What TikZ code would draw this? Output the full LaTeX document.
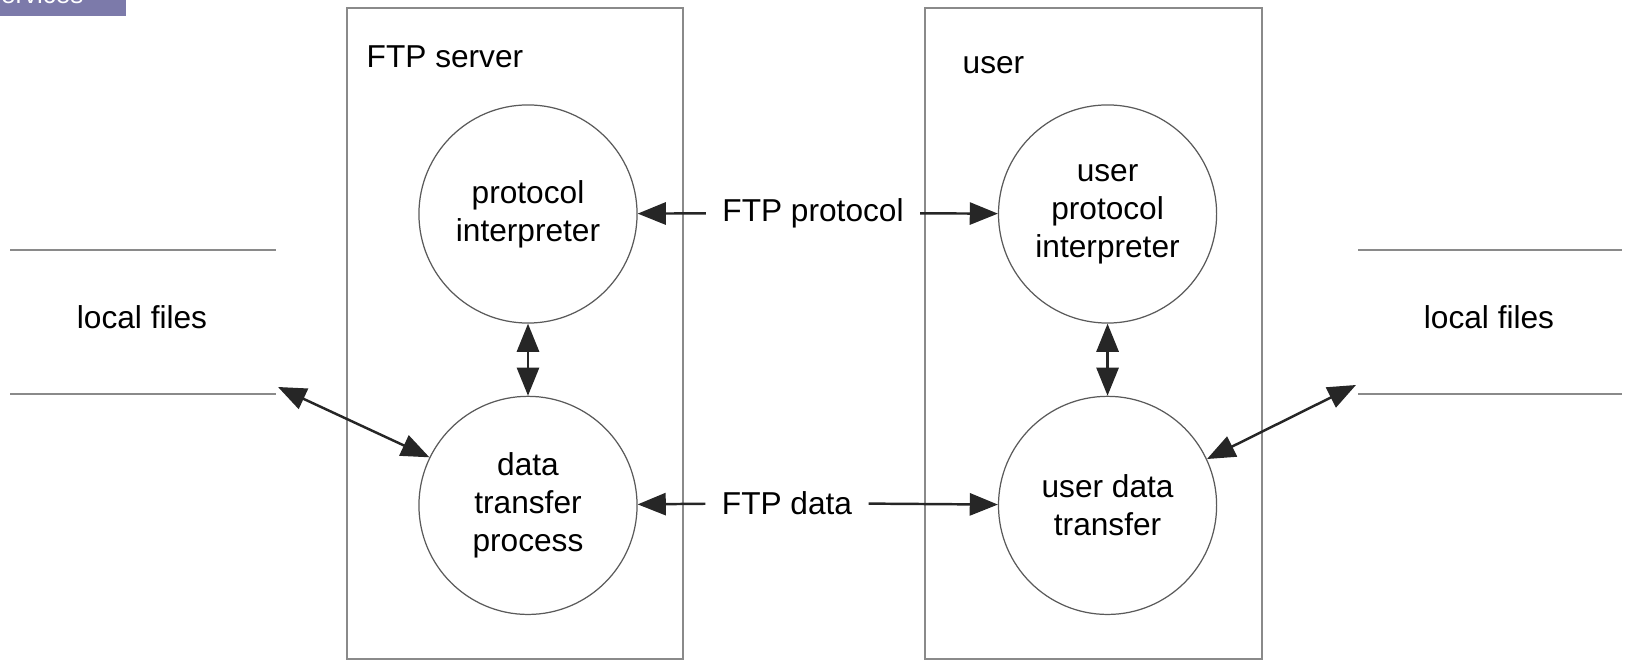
\documentclass[tikz,border=0pt]{standalone}
\usepackage{fontspec}
\setmainfont{Liberation Sans}
\usetikzlibrary{positioning, arrows.meta}

\definecolor{headerblue}{HTML}{7C7AAA}
\definecolor{boxgray}{HTML}{8A8A8A}
\definecolor{ringgray}{HTML}{5A5A5A}

\begin{document}
\begin{tikzpicture}[x=0.01cm, y=-0.01cm, node distance={0.72cm and 3.6cm},
    main/.style = {draw=ringgray, line width=0.35pt, circle, minimum size=2.18cm, inner sep=0pt, align=center, font=\fontsize{9}{10.8}\selectfont},
    lbl/.style = {font=\fontsize{9}{10.8}\selectfont, inner xsep=4.5pt, inner ysep=0pt},
    arr/.style = {-{Triangle[length=8pt, width=6.3pt]}, line width=0.7pt, draw=black!85},
    dbl/.style = {{Triangle[length=8pt, width=6.3pt]}-{Triangle[length=8pt, width=6.3pt]}, line width=0.7pt, draw=black!85},
    frame/.style = {draw=boxgray, line width=0.6pt}]
    \useasboundingbox (0,0) rectangle (1629,661);
    % slide header, cut off at the top
    \fill[headerblue] (0,0) rectangle (126,16);
    \begin{scope}
        \clip (0,0) rectangle (126,16);
        \node[anchor=base west, inner sep=0pt, text=white, font=\fontsize{7.4}{9}\selectfont] (hdr) at (-17,4) {Services};
    \end{scope}
    % server and user boxes
    \draw[frame] (347,8) rectangle (683,659);
    \draw[frame] (925,8) rectangle (1262,659);
    \node[lbl, anchor=base west, inner sep=0pt] (srv) at (366,68) {FTP server};
    \node[lbl, anchor=base west, inner sep=0pt] (usr) at (962,74) {user};
    % processes
    \node[main] (srvpi) at (528,214) {protocol\\interpreter};
    \node[main] (srvdtp) [below=of srvpi] {data\\transfer\\process};
    \node[main] (usrpi) [right=of srvpi] {user\\protocol\\interpreter};
    \node[main] (usrdt) [right=of srvdtp] {user data\\transfer};
    \node[lbl] (proto) at (813,213) {FTP protocol};
    \node[lbl] (data) at (787,503) {FTP data};
    % local files
    \draw[frame] (10,250) -- (276,250);
    \draw[frame] (10,394) -- (276,394);
    \draw[frame] (1358,250) -- (1622,250);
    \draw[frame] (1358,394) -- (1622,394);
    \node[lbl, anchor=base] (lfl) at (142,329) {local files};
    \node[lbl, anchor=base] (lfr) at (1489,329) {local files};
    \coordinate (lfltip) at (278,387);
    \coordinate (lfrtip) at (1356,385);
    % connectors
    \draw[arr] (proto) -- (srvpi);
    \draw[arr] (proto) -- (usrpi);
    \draw[arr] (data) -- (srvdtp);
    \draw[arr] (data) -- (usrdt);
    \draw[dbl] (srvpi) -- (srvdtp);
    \draw[dbl] (usrpi) -- (usrdt);
    \draw[dbl] (lfltip) -- (srvdtp.154);
    \draw[dbl] (usrdt.25) -- (lfrtip);
\end{tikzpicture}
\end{document}
